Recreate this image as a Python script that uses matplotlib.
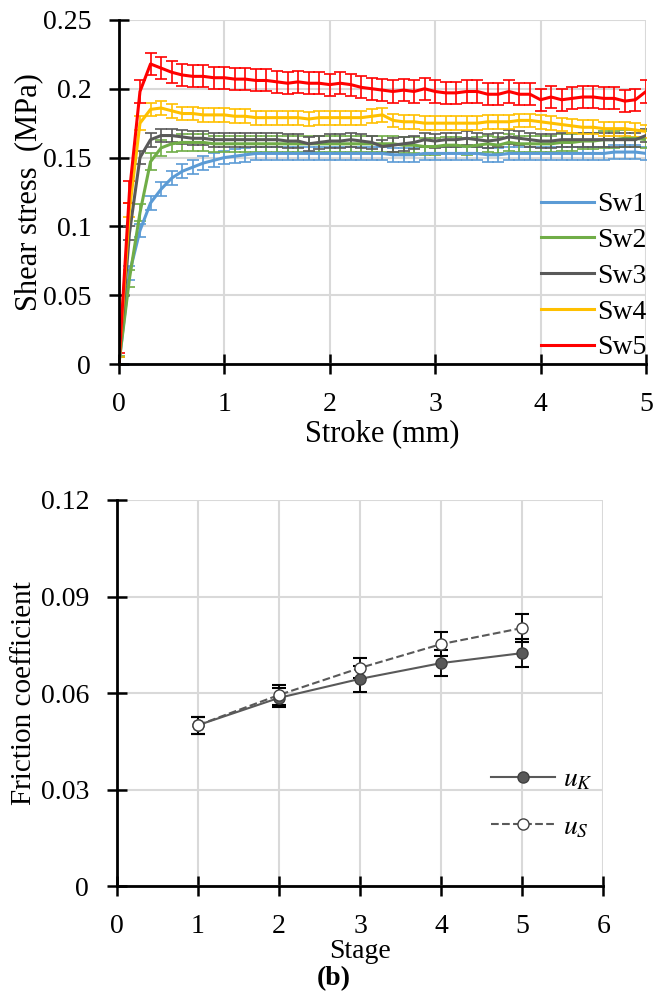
import numpy as np
import matplotlib.pyplot as plt
from matplotlib.ticker import FuncFormatter

plt.rcParams['font.family'] = ['Liberation Serif', 'DejaVu Serif']
plt.rcParams['mathtext.fontset'] = 'stix'

# (a) shear stress vs stroke, one point every 0.1 mm
stroke = np.round(np.arange(0, 5.01, 0.1), 1)

sw1 = [0, 0.066, 0.097, 0.117, 0.127, 0.135, 0.140, 0.143, 0.146, 0.148,
       0.150, 0.151, 0.152, 0.153, 0.153, 0.153, 0.153, 0.153, 0.153, 0.153,
       0.153, 0.153, 0.153, 0.153, 0.153, 0.153, 0.152, 0.152, 0.152, 0.153,
       0.153, 0.153, 0.153, 0.153, 0.153, 0.152, 0.152, 0.153, 0.153, 0.153,
       0.153, 0.153, 0.153, 0.153, 0.153, 0.153, 0.153, 0.154, 0.154, 0.154,
       0.153]
sw2 = [0, 0.062, 0.110, 0.147, 0.157, 0.160, 0.161, 0.161, 0.161, 0.160,
       0.160, 0.160, 0.160, 0.160, 0.160, 0.160, 0.160, 0.160, 0.160, 0.160,
       0.160, 0.160, 0.160, 0.160, 0.160, 0.160, 0.160, 0.159, 0.159, 0.158,
       0.158, 0.159, 0.159, 0.158, 0.159, 0.160, 0.159, 0.161, 0.160, 0.160,
       0.160, 0.160, 0.161, 0.161, 0.162, 0.162, 0.163, 0.163, 0.164, 0.164,
       0.163]
sw3 = [0, 0.095, 0.150, 0.163, 0.166, 0.166, 0.165, 0.164, 0.164, 0.163,
       0.163, 0.163, 0.163, 0.163, 0.163, 0.163, 0.162, 0.162, 0.160, 0.161,
       0.162, 0.162, 0.163, 0.162, 0.161, 0.158, 0.159, 0.160, 0.161, 0.163,
       0.162, 0.163, 0.163, 0.164, 0.163, 0.162, 0.163, 0.165, 0.164, 0.163,
       0.162, 0.162, 0.163, 0.163, 0.163, 0.163, 0.163, 0.163, 0.163, 0.163,
       0.166]
sw4 = [0, 0.112, 0.175, 0.185, 0.186, 0.184, 0.182, 0.182, 0.181, 0.181,
       0.181, 0.180, 0.180, 0.179, 0.179, 0.179, 0.179, 0.179, 0.178, 0.179,
       0.179, 0.179, 0.179, 0.179, 0.180, 0.181, 0.177, 0.176, 0.176, 0.175,
       0.175, 0.175, 0.175, 0.175, 0.175, 0.176, 0.176, 0.176, 0.177, 0.177,
       0.176, 0.175, 0.174, 0.173, 0.172, 0.172, 0.171, 0.171, 0.171, 0.170,
       0.169]
sw5 = [0, 0.125, 0.198, 0.218, 0.215, 0.212, 0.210, 0.209, 0.209, 0.208,
       0.208, 0.207, 0.207, 0.206, 0.206, 0.205, 0.204, 0.205, 0.204, 0.204,
       0.203, 0.204, 0.203, 0.201, 0.200, 0.199, 0.198, 0.199, 0.198, 0.200,
       0.198, 0.197, 0.197, 0.198, 0.198, 0.196, 0.196, 0.198, 0.196, 0.196,
       0.192, 0.194, 0.192, 0.193, 0.194, 0.194, 0.193, 0.193, 0.191, 0.192,
       0.198]
series_names = ['Sw1', 'Sw2', 'Sw3', 'Sw4', 'Sw5']
series_err = [0.005, 0.006, 0.005, 0.005, 0.008]
colors = ['#5B9BD5', '#70AD47', '#595959', '#FFC000', '#FF0000']

# (b) friction coefficient per stage
stage = [1, 2, 3, 4, 5]
u_k = [0.050, 0.0585, 0.0644, 0.0693, 0.0724]
u_k_err = [0.0027, 0.003, 0.004, 0.004, 0.0043]
u_s = [0.050, 0.0594, 0.0678, 0.0752, 0.0802]
u_s_err = [0.0027, 0.003, 0.003, 0.0038, 0.0044]

fig = plt.figure(figsize=(6.68, 9.96), dpi=100)
fmt = FuncFormatter(lambda v, p: '%g' % round(v, 3))


def style_axes(ax):
    ax.grid(True, color='#D9D9D9', linewidth=1.5)
    ax.set_axisbelow(True)
    for s in ['top', 'right']:
        ax.spines[s].set_visible(False)
    for s in ['left', 'bottom']:
        ax.spines[s].set_linewidth(2)
    ax.tick_params(direction='inout', length=14, width=1.8, labelsize=20, pad=13)
    ax.yaxis.set_major_formatter(fmt)


# top chart
ax1 = fig.add_axes([0.178, 0.6345, 0.789, 0.3455])
for ys, name, err, c in zip([sw1, sw2, sw3, sw4, sw5], series_names, series_err, colors):
    ax1.errorbar(stroke, ys, yerr=err, color=c, linewidth=2.2, ecolor=c,
                 elinewidth=1.2, capsize=4, capthick=1.2, label=name)
ax1.set_xlim(0, 5)
ax1.set_ylim(0, 0.25)
ax1.set_xticks(range(0, 6))
ax1.set_yticks(np.arange(0, 0.2501, 0.05))
style_axes(ax1)
ax1.set_xlabel('Stroke (mm)', fontsize=22, labelpad=2)
ax1.set_ylabel('Shear stress  (MPa)', fontsize=22)
ax1.yaxis.set_label_coords(-0.144, 0.5)
handles, labels = ax1.get_legend_handles_labels()
handles = [h[0] for h in handles]
ax1.legend(handles, labels, loc='lower right', bbox_to_anchor=(1.048, -0.062),
           frameon=False, fontsize=20, handlelength=1.9, handletextpad=0.1,
           labelspacing=0.37)

# bottom chart
ax2 = fig.add_axes([0.175, 0.1104, 0.728, 0.3876])
ax2.errorbar(stage, u_k, yerr=u_k_err, color='#595959', linewidth=1.5,
             marker='o', markersize=8, markerfacecolor='#595959',
             markeredgecolor='#404040', ecolor='black', elinewidth=1.3,
             capsize=5, capthick=1.5, label='$u_K$')
ax2.errorbar(stage, u_s, yerr=u_s_err, color='#595959', linewidth=1.5,
             linestyle='--', marker='o', markersize=8, markerfacecolor='white',
             markeredgecolor='#404040', ecolor='black', elinewidth=1.3,
             capsize=5, capthick=1.5, label='$u_S$')
ax2.set_xlim(0, 6)
ax2.set_ylim(0, 0.12)
ax2.set_xticks(range(0, 7))
ax2.set_yticks(np.arange(0, 0.1201, 0.03))
style_axes(ax2)
ax2.set_xlabel('Stage', fontsize=20, labelpad=0)
ax2.set_ylabel('Friction coefficient', fontsize=21)
ax2.yaxis.set_label_coords(-0.165, 0.5)
handles, labels = ax2.get_legend_handles_labels()
handles = [h[0] for h in handles]
ax2.legend(handles, labels, loc='lower right', bbox_to_anchor=(1.03, 0.054),
           frameon=False, fontsize=20, handlelength=2.3, handletextpad=0.3,
           labelspacing=0.8)
fig.text(0.5, 0.017, '(b)', ha='center', va='center', fontsize=20, fontweight='bold')

fig.savefig('out.png', dpi=100)
